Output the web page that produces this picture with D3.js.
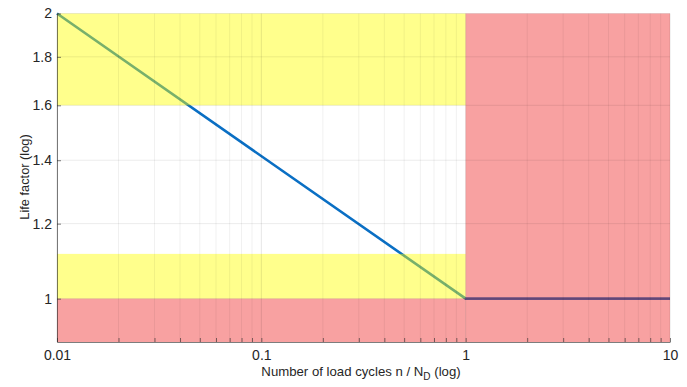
<!DOCTYPE html>
<html>
<head>
<meta charset="utf-8">
<title>Life factor</title>
<script src="https://d3js.org/d3.v7.min.js"></script>
<style>
body { margin: 0; background: #fff; }
text { font-family: "Liberation Sans", Arial, sans-serif; fill: #262626; }
</style>
</head>
<body>
<div id="chart"></div>
<script>
// data
var lineX = [0.01, 1, 10];
var lineY = [2, 1, 1];
var xTicks = [0.01, 0.1, 1, 10];
var yTicks = [1, 1.2, 1.4, 1.6, 1.8, 2];
// zones: [x0, x1, y0, y1, kind]
var zones = [
  [0.01, 1, 1.6, 2, "yellow"],
  [0.01, 1, 1, 1.115, "yellow"],
  [0.01, 1, 0.9, 1, "red"],
  [1, 10, 0.9, 2, "red"]
];

var W = 687, H = 387;
var margin = { top: 13.5, right: 17, bottom: 45, left: 57 };
var width = W - margin.left - margin.right,
    height = H - margin.top - margin.bottom;

var svg = d3.select("#chart").append("svg")
    .attr("width", W).attr("height", H);
var g = svg.append("g")
    .attr("transform", "translate(" + margin.left + "," + margin.top + ")");

var x = d3.scaleLog().domain([0.01, 10]).range([0, width]);
var y = d3.scaleLog().domain([0.9, 2]).range([height, 0]);

// minor positions for grid
var minor = [];
[0.01, 0.1, 1].forEach(function (d) {
  for (var k = 1; k <= 9; k++) minor.push(d * k);
});
minor.push(10);

// line under the fills
var line = d3.line().x(function (d) { return x(d[0]); }).y(function (d) { return y(d[1]); });
g.append("path")
  .datum(d3.zip(lineX, lineY))
  .attr("d", line)
  .attr("fill", "none")
  .attr("stroke", "#0a6fc4")
  .attr("stroke-width", 2.6);

var fills = { yellow: "rgba(255,255,0,0.45)", red: "rgba(238,30,30,0.42)" };
g.selectAll(".zone").data(zones).enter().append("rect")
  .attr("class", "zone")
  .attr("x", function (d) { return x(d[0]); })
  .attr("width", function (d) { return x(d[1]) - x(d[0]); })
  .attr("y", function (d) { return y(d[3]); })
  .attr("height", function (d) { return y(d[2]) - y(d[3]); })
  .attr("fill", function (d) { return fills[d[4]]; });

// grid
g.selectAll(".vgrid").data(minor).enter().append("line")
  .attr("x1", function (d) { return x(d); }).attr("x2", function (d) { return x(d); })
  .attr("y1", 0).attr("y2", height)
  .attr("stroke", "#000").attr("stroke-opacity", function (d) { return xTicks.indexOf(d) >= 0 ? 0.1 : 0.06; })
  .attr("stroke-width", 1);
g.selectAll(".hgrid").data(yTicks).enter().append("line")
  .attr("x1", 0).attr("x2", width)
  .attr("y1", function (d) { return y(d); }).attr("y2", function (d) { return y(d); })
  .attr("stroke", "#000").attr("stroke-opacity", 0.08);

// axes
var xAxis = d3.axisBottom(x).tickValues(minor).tickSizeInner(-4).tickSizeOuter(0)
  .tickFormat(function (d) { return xTicks.indexOf(d) >= 0 ? d3.format("")(d) : ""; });
var gx = g.append("g").attr("transform", "translate(0," + height + ")").call(xAxis);
gx.select(".domain").attr("stroke", "#262626").attr("stroke-opacity", 0.6);
gx.selectAll(".tick line").attr("stroke", "#262626").attr("stroke-opacity", 0.6);
gx.selectAll("text").attr("font-size", 14).attr("dy", "1.1em");

var yAxis = d3.axisLeft(y).tickValues(yTicks).tickSizeInner(-4).tickSizeOuter(0)
  .tickFormat(d3.format(""));
var gy = g.append("g").call(yAxis);
gy.select(".domain").attr("stroke", "#262626").attr("stroke-opacity", 0.6);
gy.selectAll(".tick line").attr("stroke", "#262626").attr("stroke-opacity", 0.6);
gy.selectAll("text").attr("font-size", 14).attr("x", -5);

// labels
var xl = svg.append("text")
  .attr("x", 361).attr("y", 376)
  .attr("text-anchor", "middle").attr("font-size", 13.2);
xl.append("tspan").text("Number of load cycles n / N");
xl.append("tspan").attr("font-size", 10).attr("dy", 4).text("D");
xl.append("tspan").attr("dy", -4).text(" (log)");

svg.append("text")
  .attr("transform", "translate(29,177) rotate(-90)")
  .attr("text-anchor", "middle").attr("font-size", 12.8)
  .text("Life factor (log)");
</script>
</body>
</html>
